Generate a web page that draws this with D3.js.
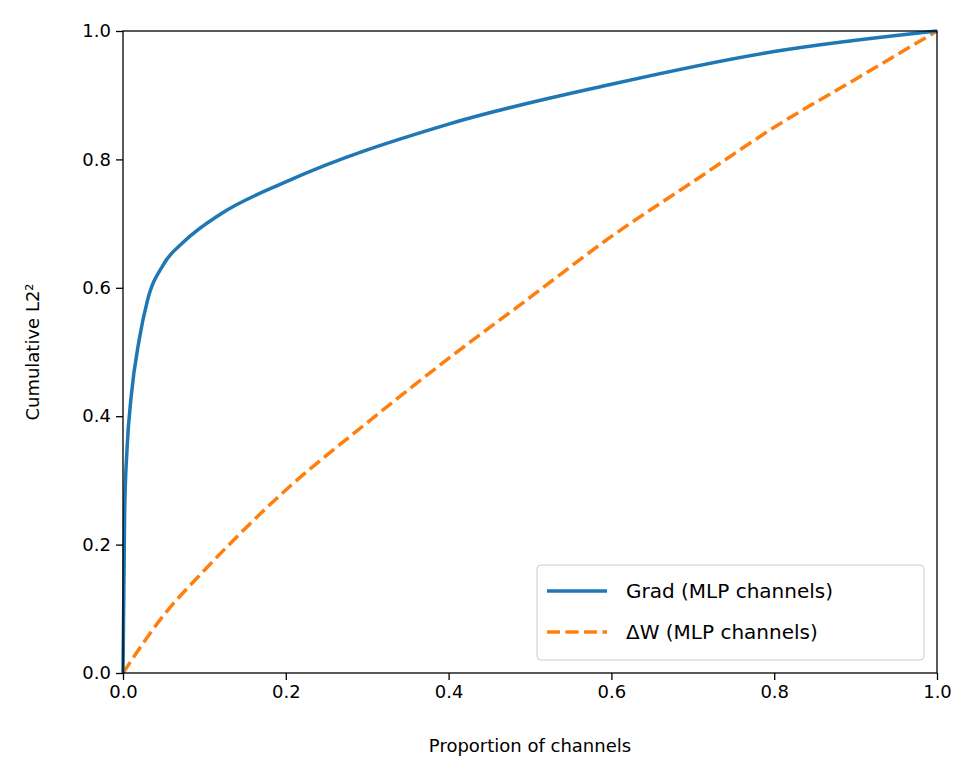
<!DOCTYPE html>
<html><head><meta charset="utf-8">
<script src="https://cdn.jsdelivr.net/npm/d3@7"></script>
<style>body{margin:0;background:#fff}text{font-family:"DejaVu Sans",sans-serif}</style>
</head><body><svg id="c" width="980" height="780"></svg>
<script>
// values
var gradX = [0, 0.002, 0.005, 0.01, 0.02, 0.03, 0.05, 0.075, 0.12, 0.2, 0.4, 0.6, 0.8, 1];
var gradY = [0, 0.25, 0.35, 0.43, 0.52, 0.58, 0.637, 0.672, 0.715, 0.765, 0.855, 0.917, 0.968, 1];
var dwX = [0, 0.05, 0.1, 0.2, 0.3, 0.4, 0.5, 0.6, 0.7, 0.8, 0.9, 1];
var dwY = [0, 0.09, 0.16, 0.285, 0.39, 0.49, 0.585, 0.68, 0.765, 0.85, 0.925, 1];
var ticks = [0, 0.2, 0.4, 0.6, 0.8, 1.0];

var svg = d3.select('#c');
var x = d3.scaleLinear().domain([0, 1]).range([123, 937]);
var y = d3.scaleLinear().domain([0, 1]).range([673, 31]);

var line = d3.line().x(d => x(d[0])).y(d => y(d[1])).curve(d3.curveMonotoneX);
svg.append('path').datum(dwX.map((v, i) => [v, dwY[i]]))
   .attr('d', line).attr('fill', 'none').attr('stroke', '#ff7f0e')
   .attr('stroke-width', 3.5).attr('stroke-dasharray', '13,5.5');
svg.append('path').datum(gradX.map((v, i) => [v, gradY[i]]))
   .attr('d', line).attr('fill', 'none').attr('stroke', '#1f77b4').attr('stroke-width', 3.5);

var xa = svg.append('g').attr('transform', 'translate(0,673)')
   .call(d3.axisBottom(x).tickValues(ticks).tickFormat(d3.format('.1f')).tickSize(7).tickPadding(5));
var ya = svg.append('g').attr('transform', 'translate(123,0)')
   .call(d3.axisLeft(y).tickValues(ticks).tickFormat(d3.format('.1f')).tickSize(7).tickPadding(5));
[xa, ya].forEach(g => g.attr('font-size', 18).attr('font-family', 'DejaVu Sans'));
svg.selectAll('.tick text').style('font-size', '18px').attr('fill', '#000');
svg.selectAll('.tick line').attr('stroke-width', 1.3);
svg.selectAll('.domain').remove();
svg.append('rect').attr('x', 123).attr('y', 31).attr('width', 814).attr('height', 642)
   .attr('fill', 'none').attr('stroke', '#000').attr('stroke-width', 1.3);

svg.append('text').attr('x', 530).attr('y', 752).attr('text-anchor', 'middle')
   .style('font-size', '18px').text('Proportion of channels');
svg.append('text').attr('transform', 'translate(39,352) rotate(-90)').attr('text-anchor', 'middle')
   .style('font-size', '18px').text('Cumulative L2²');

// legend
var lg = svg.append('g').attr('transform', 'translate(537,565)');
lg.append('rect').attr('width', 387).attr('height', 95).attr('rx', 4)
  .attr('fill', '#fff').attr('fill-opacity', 0.8).attr('stroke', '#ccc');
var items = [['Grad (MLP channels)', '#1f77b4', null], ['ΔW (MLP channels)', '#ff7f0e', '13,5.5']];
items.forEach(function(it, i) {
  var yy = 26 + i * 41;
  lg.append('line').attr('x1', 10).attr('x2', 70).attr('y1', yy).attr('y2', yy)
    .attr('stroke', it[1]).attr('stroke-width', 3.5).attr('stroke-dasharray', it[2]);
  lg.append('text').attr('x', 89).attr('y', yy + 7).style('font-size', '20px').text(it[0]);
});
</script></body></html>
